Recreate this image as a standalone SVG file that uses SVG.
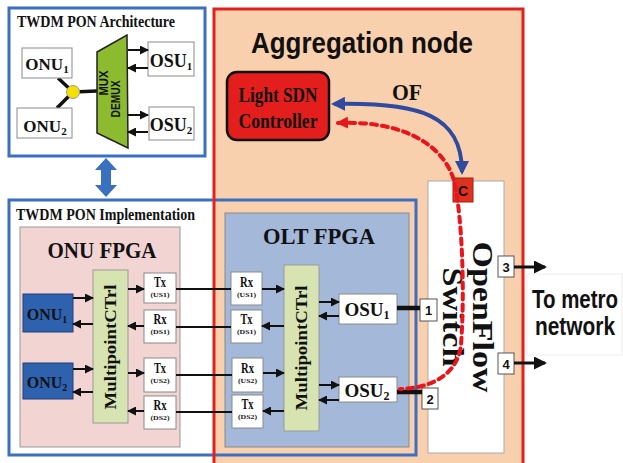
<svg xmlns="http://www.w3.org/2000/svg" width="623" height="463" viewBox="0 0 623 463">
<style>
.serif{font-family:"Liberation Serif","Times New Roman",serif;font-weight:bold;fill:#111}
.sans{font-family:"Liberation Sans",Arial,sans-serif;font-weight:bold;fill:#111}
.box{fill:#fff;stroke:#8a8a8a;stroke-width:1}
.thin{stroke:#111;stroke-width:2;fill:none}
.arr{stroke:#111;stroke-width:2;fill:none;marker-end:url(#ah)}
.port{fill:#fff;stroke:#555;stroke-width:1}
.mid{text-anchor:middle}
</style>
<defs>
<marker id="ah" markerUnits="userSpaceOnUse" markerWidth="9" markerHeight="9" refX="8" refY="4.5" orient="auto"><path d="M0,0 L9,4.5 L0,9 z" fill="#111"/></marker>
<marker id="ahb" markerUnits="userSpaceOnUse" markerWidth="13" markerHeight="13" refX="11" refY="6.5" orient="auto"><path d="M0,0 L13,6.5 L0,13 z" fill="#111"/></marker>
<marker id="blue" markerUnits="userSpaceOnUse" markerWidth="14" markerHeight="14" refX="11" refY="7" orient="auto-start-reverse"><path d="M0,0 L14,7 L0,14 z" fill="#2f4a9f"/></marker>
<marker id="red" markerUnits="userSpaceOnUse" markerWidth="12" markerHeight="12" refX="10" refY="6" orient="auto-start-reverse"><path d="M0,0 L12,6 L0,12 z" fill="#e8151b"/></marker>
</defs>
<rect width="623" height="463" fill="#fff"/>

<!-- Aggregation node background -->
<g id="aggregation">
<rect x="214" y="9" width="309" height="470" fill="#f9d0ad"/>
</g>

<!-- TWDM PON Architecture -->
<g id="architecture">
<rect x="9" y="8" width="196" height="148" fill="#fff" stroke="#3b6fc1" stroke-width="3"/>
<text class="serif" x="17" y="27" font-size="16" textLength="158" lengthAdjust="spacingAndGlyphs">TWDM PON Architecture</text>
<g stroke="#111" stroke-width="3.5"><line x1="58" y1="78" x2="73" y2="92"/><line x1="73" y1="92" x2="57" y2="108"/><line x1="73" y1="92" x2="97" y2="91"/></g>
<circle cx="73" cy="92" r="6.5" fill="#f5e000" stroke="#999" stroke-width="1"/>
<g id="arch-onu1"><rect class="box" x="22" y="48" width="50" height="30"/><text class="serif mid" x="47" y="70" font-size="17">ONU<tspan font-size="11" dy="3">1</tspan></text></g>
<g id="arch-onu2"><rect class="box" x="17" y="108" width="55" height="30"/><text class="serif mid" x="45" y="132" font-size="17">ONU<tspan font-size="11" dy="3">2</tspan></text></g>
<g id="arch-osu1"><rect class="box" x="148" y="42" width="46" height="34"/><text class="serif mid" x="171" y="67" font-size="18">OSU<tspan font-size="11" dy="3">1</tspan></text></g>
<g id="arch-osu2"><rect class="box" x="149" y="107" width="45" height="33"/><text class="serif mid" x="171" y="131" font-size="18">OSU<tspan font-size="11" dy="3">2</tspan></text></g>
<g id="muxdemux"><polygon points="97,52 127,35 128,148 97,133" fill="#8cbb2f" stroke="#222" stroke-width="1.5"/>
<text class="sans mid" transform="translate(104,83) rotate(-90)" font-size="12" dominant-baseline="central" textLength="25" lengthAdjust="spacingAndGlyphs">MUX</text>
<text class="sans mid" transform="translate(116,99) rotate(-90)" font-size="12" dominant-baseline="central" textLength="37" lengthAdjust="spacingAndGlyphs">DEMUX</text></g>
<g id="arch-arrows"><path class="arr" d="M128 50 H148"/><path class="arr" d="M148 68 H128"/><path class="arr" d="M128 115 H148"/><path class="arr" d="M148 132 H128"/></g>
</g>

<!-- double arrow -->
<g id="link-arrow"><polygon points="106,158 117,170 111,170 111,185 117,185 106,197 95,185 101,185 101,170 95,170" fill="#3a70c0"/></g>

<!-- Implementation frame -->
<g id="implementation">
<rect x="9" y="200" width="407" height="255" fill="none" stroke="#3b6fc1" stroke-width="3"/>
<text class="serif" x="16" y="220" font-size="16" textLength="179" lengthAdjust="spacingAndGlyphs">TWDM PON Implementation</text>
</g>

<!-- Aggregation node red frame & title -->
<g id="aggregation-frame">
<rect x="214" y="9" width="309" height="470" fill="none" stroke="#e3201c" stroke-width="3"/>
<text class="sans mid" x="362" y="53" font-size="30" textLength="222" lengthAdjust="spacingAndGlyphs">Aggregation node</text>
</g>

<!-- ONU FPGA -->
<g id="onu-fpga">
<rect x="20" y="227" width="160" height="220" fill="#f2d4d3" stroke="#999" stroke-width="1"/>
<text class="serif mid" x="102" y="258" font-size="24" textLength="109" lengthAdjust="spacingAndGlyphs">ONU  FPGA</text>
</g>
<g id="onu-mc"><rect x="93" y="270" width="35" height="153" fill="#d7e4b2" stroke="#999"/>
<text class="serif mid" transform="translate(116,347) rotate(-90)" font-size="17" textLength="125" lengthAdjust="spacingAndGlyphs">MultipointCTrl</text></g>
<g id="onu1"><rect x="23" y="294" width="50" height="38" fill="#2f62ae" stroke="#1e3f7a"/><text class="serif mid" x="47" y="320" font-size="16">ONU<tspan font-size="10" dy="3">1</tspan></text></g>
<g id="onu2"><rect x="23" y="363" width="50" height="36" fill="#2f62ae" stroke="#1e3f7a"/><text class="serif mid" x="47" y="388" font-size="16">ONU<tspan font-size="10" dy="3">2</tspan></text></g>
<g id="onu-tx1"><rect class="box" x="144" y="273" width="32" height="30"/><text class="serif mid" x="160" y="287" font-size="14" textLength="12" lengthAdjust="spacingAndGlyphs">Tx</text><text class="serif mid" x="160" y="297" font-size="7" textLength="19" lengthAdjust="spacingAndGlyphs">(US1)</text></g>
<g id="onu-rx1"><rect class="box" x="144" y="310" width="32" height="33"/><text class="serif mid" x="160" y="324" font-size="14" textLength="13" lengthAdjust="spacingAndGlyphs">Rx</text><text class="serif mid" x="160" y="334" font-size="7" textLength="19" lengthAdjust="spacingAndGlyphs">(DS1)</text></g>
<g id="onu-tx2"><rect class="box" x="144" y="358" width="32" height="34"/><text class="serif mid" x="160" y="373" font-size="14" textLength="12" lengthAdjust="spacingAndGlyphs">Tx</text><text class="serif mid" x="160" y="383" font-size="7" textLength="19" lengthAdjust="spacingAndGlyphs">(US2)</text></g>
<g id="onu-rx2"><rect class="box" x="144" y="396" width="32" height="33"/><text class="serif mid" x="160" y="410" font-size="14" textLength="13" lengthAdjust="spacingAndGlyphs">Rx</text><text class="serif mid" x="160" y="420" font-size="7" textLength="19" lengthAdjust="spacingAndGlyphs">(DS2)</text></g>

<!-- OLT FPGA -->
<g id="olt-fpga">
<rect x="225" y="213" width="184" height="234" fill="#a4b8da" stroke="#888" stroke-width="1"/>
<text class="serif mid" x="319" y="244" font-size="24" textLength="112" lengthAdjust="spacingAndGlyphs">OLT   FPGA</text>
</g>
<g id="olt-mc"><rect x="284" y="265" width="35" height="166" fill="#d7e4b2" stroke="#999"/>
<text class="serif mid" transform="translate(307,348) rotate(-90)" font-size="17" textLength="125" lengthAdjust="spacingAndGlyphs">MultipointCTrl</text></g>
<g id="olt-rx1"><rect class="box" x="231" y="272" width="31" height="33"/><text class="serif mid" x="246.5" y="287" font-size="14" textLength="13" lengthAdjust="spacingAndGlyphs">Rx</text><text class="serif mid" x="246.5" y="297" font-size="7" textLength="19" lengthAdjust="spacingAndGlyphs">(US1)</text></g>
<g id="olt-tx1"><rect class="box" x="231" y="310" width="31" height="33"/><text class="serif mid" x="246.5" y="324" font-size="14" textLength="12" lengthAdjust="spacingAndGlyphs">Tx</text><text class="serif mid" x="246.5" y="334" font-size="7" textLength="19" lengthAdjust="spacingAndGlyphs">(DS1)</text></g>
<g id="olt-rx2"><rect class="box" x="232" y="358" width="31" height="34"/><text class="serif mid" x="247.5" y="373" font-size="14" textLength="13" lengthAdjust="spacingAndGlyphs">Rx</text><text class="serif mid" x="247.5" y="383" font-size="7" textLength="19" lengthAdjust="spacingAndGlyphs">(US2)</text></g>
<g id="olt-tx2"><rect class="box" x="232" y="395" width="31" height="33"/><text class="serif mid" x="247.5" y="409" font-size="14" textLength="12" lengthAdjust="spacingAndGlyphs">Tx</text><text class="serif mid" x="247.5" y="419" font-size="7" textLength="19" lengthAdjust="spacingAndGlyphs">(DS2)</text></g>
<g id="osu1"><rect class="box" x="339" y="294" width="58" height="30"/><text class="serif mid" x="367" y="316" font-size="19">OSU<tspan font-size="12" dy="3">1</tspan></text></g>
<g id="osu2"><rect class="box" x="339" y="377" width="58" height="25"/><text class="serif mid" x="367" y="397" font-size="19">OSU<tspan font-size="12" dy="3">2</tspan></text></g>

<!-- OpenFlow switch -->
<g id="switch">
<rect x="428" y="181" width="76" height="272" fill="#fff" stroke="#aaa" stroke-width="1"/>
<text class="serif mid" transform="translate(473,317) rotate(90)" font-size="29" textLength="151" lengthAdjust="spacingAndGlyphs">OpenFlow</text>
<text class="serif mid" transform="translate(443,317) rotate(90)" font-size="29" textLength="99" lengthAdjust="spacingAndGlyphs">Switch</text>
</g>
<g id="port1"><rect class="port" x="420" y="299" width="17" height="22"/><text class="sans mid" x="428.5" y="315" font-size="13">1</text></g>
<g id="port2"><rect class="port" x="422" y="388" width="16" height="21"/><text class="sans mid" x="430" y="404" font-size="13">2</text></g>
<g id="port3"><rect class="port" x="498" y="256" width="16" height="21"/><text class="sans mid" x="506" y="272" font-size="13">3</text></g>
<g id="port4"><rect class="port" x="498" y="353" width="16" height="21"/><text class="sans mid" x="506" y="369" font-size="13">4</text></g>
<g id="c-port"><rect x="453" y="178" width="20" height="24" fill="#e0301e" stroke="#a02010" stroke-width="1"/><text class="sans mid" x="463" y="196" font-size="14">C</text></g>

<!-- Controller -->
<g id="controller">
<rect x="227" y="72" width="102" height="68" rx="10" fill="#e31e1c" stroke="#111" stroke-width="2.5"/>
<text class="serif mid" x="278" y="102" font-size="20" textLength="79" lengthAdjust="spacingAndGlyphs">Light SDN</text>
<text class="serif mid" x="278" y="128" font-size="20" textLength="79" lengthAdjust="spacingAndGlyphs">Controller</text>
</g>

<!-- To metro network -->
<g id="metro">
<rect x="527" y="274" width="95" height="81" fill="#fff" stroke="#eee" stroke-width="1"/>
<text class="sans mid" transform="translate(575,308) scale(1,1.2)" font-size="22" textLength="86" lengthAdjust="spacingAndGlyphs">To metro</text>
<text class="sans mid" transform="translate(575,335) scale(1,1.2)" font-size="22" textLength="80" lengthAdjust="spacingAndGlyphs">network</text>
</g>

<!-- connectors -->
<g id="connectors">
<path class="arr" d="M73 298 H93"/><path class="arr" d="M93 324 H73"/><path class="arr" d="M73 369 H93"/><path class="arr" d="M93 392 H73"/>
<path class="arr" d="M128 289 H144"/><path class="arr" d="M144 326 H128"/><path class="arr" d="M128 373 H144"/><path class="arr" d="M144 411 H128"/>
<path class="thin" d="M176 289 H231"/><path class="thin" d="M176 327 H231"/><path class="thin" d="M176 375 H232"/><path class="thin" d="M176 412 H232"/>
<path class="arr" d="M262 289 H284"/><path class="arr" d="M284 326 H262"/><path class="arr" d="M263 373 H284"/><path class="arr" d="M284 411 H263"/>
<path class="arr" d="M319 302 H339"/><path class="arr" d="M339 316 H319"/><path class="arr" d="M319 385 H339"/><path class="arr" d="M339 400 H319"/>
<path d="M397 308 H420" stroke="#111" stroke-width="4.5"/>
<path d="M397 392 H422" stroke="#111" stroke-width="4.5"/>
<path d="M514 267 H545" stroke="#111" stroke-width="3" marker-end="url(#ahb)"/>
<path d="M514 363 H545" stroke="#111" stroke-width="3" marker-end="url(#ahb)"/>
<path d="M334 104 C 420 102, 462 115, 462 172" fill="none" stroke="#2f4a9f" stroke-width="4" marker-start="url(#blue)" marker-end="url(#blue)"/>
<text class="serif mid" x="407" y="100" font-size="24" textLength="30" lengthAdjust="spacingAndGlyphs">OF</text>
<path d="M338 123 C 410 120, 448 150, 455 185 C 462 220, 465 290, 461 345 C 458 372, 435 388, 400 389" fill="none" stroke="#e8151b" stroke-width="4" stroke-dasharray="6 5" stroke-linecap="round" marker-start="url(#red)"/>
</g>
</svg>
